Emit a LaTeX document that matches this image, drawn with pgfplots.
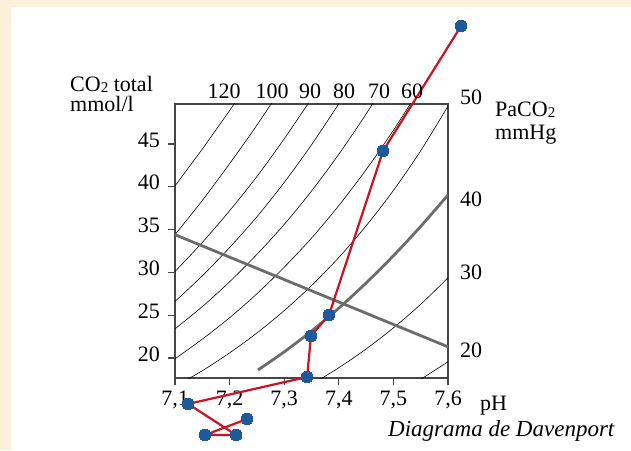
\documentclass[border=0pt]{standalone}
\usepackage{fontspec}
\setmainfont{Liberation Serif}
\usepackage{pgfplots}
\pgfplotsset{compat=1.18}
\definecolor{cream}{RGB}{253,240,218}
\definecolor{axgray}{RGB}{70,70,70}
\definecolor{bufgray}{RGB}{108,108,108}
\definecolor{pathred}{RGB}{200,20,35}
\definecolor{ptblue}{RGB}{30,90,155}

\begin{document}
\begin{tikzpicture}[x=1pt,y=1pt,font=\fontsize{22}{26}\selectfont]
\path[use as bounding box] (0,0) rectangle (631,450);
\fill[cream] (0,0) rectangle (631,450);
\fill[white] (11,0) rectangle (631,443);

\pgfplotsset{dav/.style={width=273pt, height=274pt, scale only axis,
  at={(175pt,72pt)}, anchor=south west,
  xmin=7.1, xmax=7.6, ymin=17.66, ymax=49.67}}

\begin{axis}[dav, no markers,
  axis line style={axgray, line width=1.5pt},
  xtick={7.1,7.2,7.3,7.4,7.5,7.6},
  xticklabels={{7,1},{7,2},{7,3},{7,4},{7,5},{7,6}},
  ytick={20,25,30,35,40,45},
  yticklabels={20,25,30,35,40,45},
  tick align=outside, xtick pos=bottom, ytick pos=left,
  major tick length=7pt,
  tick style={axgray, line width=1.3pt},
  tick label style={font=\fontsize{22}{26}\selectfont},
  xticklabel style={inner sep=0pt, yshift=-6pt},
  yticklabel style={inner sep=0pt, xshift=-8pt, yshift=4pt}]
% isobars (PaCO2, mmHg)
\addplot[black, line width=0.6pt] coordinates {(7.10,40.10) (7.15,44.40) (7.20,48.90) (7.25,53.60)};
\addplot[black, line width=0.6pt, smooth] coordinates {(7.10,34.40) (7.15,38.40) (7.20,42.70) (7.25,47.20) (7.30,52.00)};
\addplot[black, line width=0.6pt, smooth] coordinates {(7.10,30.10) (7.15,33.50) (7.20,37.20) (7.25,41.20) (7.30,45.60) (7.35,50.30)};
\addplot[black, line width=0.6pt, smooth] coordinates {(7.10,26.60) (7.15,29.60) (7.20,32.90) (7.25,36.50) (7.30,40.50) (7.35,44.90) (7.40,49.70)};
\addplot[black, line width=0.6pt, smooth] coordinates {(7.10,23.40) (7.15,26.00) (7.20,28.90) (7.25,32.10) (7.30,35.60) (7.35,39.50) (7.40,43.80) (7.45,48.50) (7.50,53.60)};
\addplot[black, line width=0.6pt, smooth] coordinates {(7.10,19.90) (7.15,22.20) (7.20,24.70) (7.25,27.50) (7.30,30.60) (7.35,34.00) (7.40,37.80) (7.45,42.00) (7.50,46.60) (7.55,51.60)};
\addplot[black, line width=0.6pt, smooth] coordinates {(7.10,16.67) (7.15,18.51) (7.20,20.59) (7.25,22.92) (7.30,25.53) (7.35,28.46) (7.40,31.74) (7.45,35.43) (7.50,39.57) (7.55,44.21) (7.60,49.42)};
\addplot[black, line width=0.6pt, smooth] coordinates {(7.35,16.90) (7.40,18.86) (7.45,21.05) (7.50,23.51) (7.55,26.27) (7.60,29.36)};
\addplot[black, line width=0.6pt, smooth] coordinates {(7.50,15.67) (7.55,17.51) (7.60,19.57)};
% normal 40 mmHg isobar and buffer line
\addplot[bufgray, line width=2.8pt, smooth] coordinates {(7.252,18.60) (7.30,20.71) (7.35,23.14) (7.40,25.82) (7.45,28.76) (7.50,31.94) (7.55,35.37) (7.60,39.04)};
\addplot[bufgray, line width=2.8pt] coordinates {(7.1,34.4) (7.6,21.3)};
\end{axis}

\begin{axis}[dav, hide axis, clip=false]
\addplot[pathred, line width=2.2pt, mark=*, mark size=5.8pt,
  mark options={fill=ptblue, draw=ptblue, line width=0pt}] coordinates {
  (7.624,58.79) (7.481,44.18) (7.382,25.02) (7.349,22.57) (7.342,17.78)
  (7.124,14.63) (7.212,11.00) (7.155,11.00) (7.232,12.87)};
\end{axis}

\node[anchor=base west, inner sep=0pt] at (70,358) {CO\raisebox{-1pt}{\fontsize{15}{15}\selectfont 2} total};
\node[anchor=base west, inner sep=0pt] at (70,338) {mmol/l};
\node[anchor=base, inner sep=0pt] at (224,351) {120};
\node[anchor=base, inner sep=0pt] at (272,351) {100};
\node[anchor=base, inner sep=0pt] at (310,351) {90};
\node[anchor=base, inner sep=0pt] at (344,351) {80};
\node[anchor=base, inner sep=0pt] at (379,351) {70};
\node[anchor=base, inner sep=0pt] at (412,351) {60};
\node[anchor=base west, inner sep=0pt] at (460,345) {50};
\node[anchor=base west, inner sep=0pt] at (460,243) {40};
\node[anchor=base west, inner sep=0pt] at (460,171) {30};
\node[anchor=base west, inner sep=0pt] at (460,93) {20};
\node[anchor=base west, inner sep=0pt] at (495,333) {PaCO\raisebox{-1pt}{\fontsize{15}{15}\selectfont 2}};
\node[anchor=base west, inner sep=0pt] at (495,310) {mmHg};
\node[anchor=base west, inner sep=0pt] at (480,40) {pH};
\node[anchor=base west, inner sep=0pt, font=\fontsize{23}{27}\selectfont\itshape] at (388,14) {Diagrama de Davenport};
\end{tikzpicture}
\end{document}
